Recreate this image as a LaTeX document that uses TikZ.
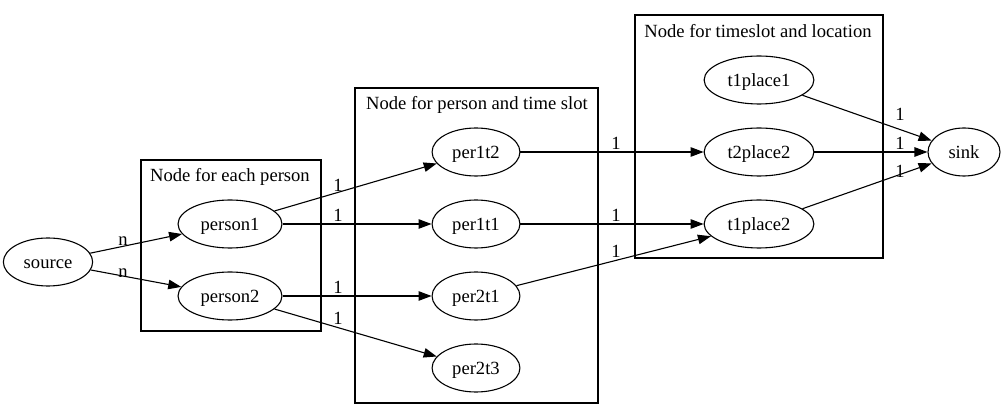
\documentclass[tikz,border=0pt]{standalone}
\usepackage{fontspec}
\setmainfont{Liberation Serif}
\usetikzlibrary{arrows.meta,shapes.geometric}
\tikzset{
  vert/.style={draw, ellipse, line width=1.1pt, inner xsep=7.3pt, inner ysep=0pt, minimum width=72pt, minimum height=48pt},
  edge/.style={line width=1.1pt, -{Triangle[length=13pt,width=9.5pt]}},
  clus/.style={draw, line width=1.1pt},
  lbl/.style={inner sep=0pt},
}
\begin{document}
\begin{tikzpicture}[x=1pt,y=-1pt,font=\fontsize{18.6}{22}\selectfont,
  every node/.append style={text height=12.7pt, text depth=0pt}]
\useasboundingbox (0,0) rectangle (1005,419);
% clusters
\draw[clus] (141,160) rectangle (321,331);
\node (title1) at (230,175) {Node for each person};
\draw[clus] (355,88) rectangle (598,403);
\node (title2) at (477,103) {Node for person and time slot};
\draw[clus] (635,15) rectangle (883,258);
\node (title3) at (758,31) {Node for timeslot and location};
% vertices
\node[vert] (source) at (48,262) {source};
\node[vert] (person1) at (230,224) {person1};
\node[vert] (person2) at (230,296) {person2};
\node[vert] (per1t2) at (476,152) {per1t2};
\node[vert] (per1t1) at (476,224) {per1t1};
\node[vert] (per2t1) at (476,296) {per2t1};
\node[vert] (per2t3) at (476,368) {per2t3};
\node[vert] (t1place1) at (759,80) {t1place1};
\node[vert] (t2place2) at (759,152) {t2place2};
\node[vert] (t1place2) at (759,224) {t1place2};
\node[vert] (sink) at (964,152) {sink};
% edges with capacities
\foreach \a/\b/\x/\y/\t in {source/person1/123/239/n, source/person2/123/271/n,
  person1/per1t2/338/185/1, person1/per1t1/338/215/1,
  person2/per2t1/338/287/1, person2/per2t3/338/318/1,
  per1t2/t2place2/616/143/1, per1t1/t1place2/616/215/1, per2t1/t1place2/616/251/1,
  t1place1/sink/900/114/1, t2place2/sink/900/143/1, t1place2/sink/900/171/1} {
  \draw[edge] (\a) -- (\b);
  \node[lbl] (\a-\b) at (\x,\y) {\t};
}
\end{tikzpicture}
\end{document}
